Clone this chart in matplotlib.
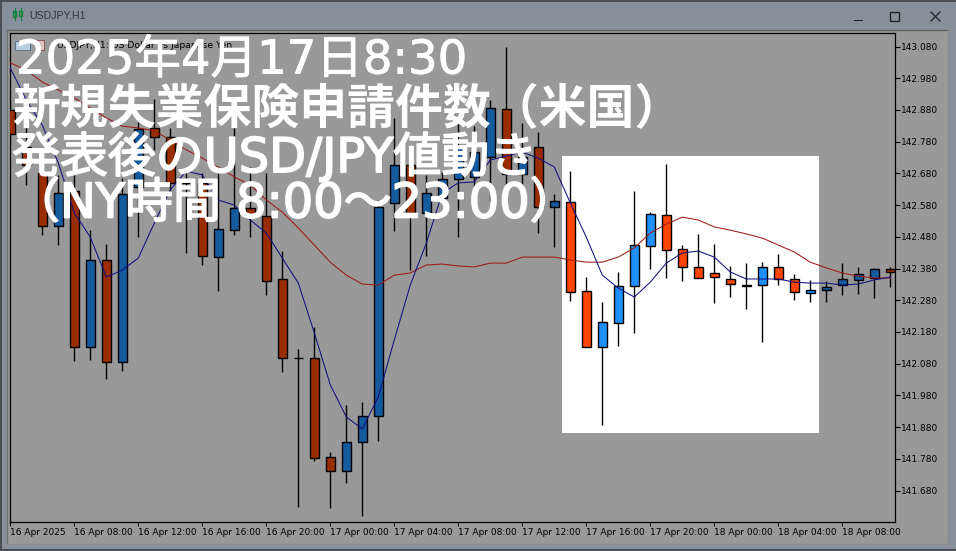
import matplotlib
matplotlib.use("Agg")
from matplotlib import pyplot as plt
from matplotlib import patheffects
from matplotlib.patches import Rectangle

W, H = 956, 551

opens = [142.880, 142.763, 142.681, 142.514, 142.624, 142.133, 142.407, 142.085,
         142.637, 142.823, 142.795, 142.650, 142.650, 142.416, 142.501, 142.571,
         142.546, 142.347, 142.098, 142.098, 141.786, 141.742, 141.833, 141.915,
         142.587, 142.706, 142.555, 142.602, 142.662, 142.669, 142.732, 142.883,
         142.678, 142.763, 142.574, 142.590, 142.309, 142.133, 142.208, 142.325,
         142.451, 142.549, 142.442, 142.385, 142.366, 142.347, 142.327, 142.328,
         142.385, 142.347, 142.303, 142.312, 142.328, 142.344, 142.350, 142.378]
closes = [142.804, 142.706, 142.514, 142.618, 142.133, 142.407, 142.085, 142.615,
          142.820, 142.795, 142.650, 142.650, 142.419, 142.504, 142.571, 142.542,
          142.341, 142.098, 142.098, 141.782, 141.742, 141.833, 141.915, 142.574,
          142.706, 142.552, 142.618, 142.662, 142.763, 142.747, 142.886, 142.678,
          142.732, 142.574, 142.593, 142.306, 142.133, 142.211, 142.325, 142.454,
          142.552, 142.438, 142.385, 142.350, 142.353, 142.331, 142.325, 142.385,
          142.347, 142.306, 142.312, 142.322, 142.347, 142.363, 142.378, 142.369]
highs = [142.911, 142.832, 142.722, 142.675, 142.675, 142.501, 142.457, 142.665,
         142.842, 142.914, 142.823, 142.684, 142.681, 142.681, 142.823, 142.700,
         142.681, 142.435, 142.126, 142.196, 141.801, 141.950, 141.959, 142.596,
         142.855, 142.722, 142.675, 142.684, 142.839, 142.829, 142.911, 143.078,
         142.839, 142.810, 142.615, 142.687, 142.353, 142.274, 142.369, 142.624,
         142.558, 142.710, 142.454, 142.489, 142.457, 142.388, 142.397, 142.400,
         142.426, 142.363, 142.344, 142.341, 142.397, 142.385, 142.382, 142.385]
lows = [142.769, 142.643, 142.486, 142.454, 142.088, 142.091, 142.032, 142.057,
        142.479, 142.754, 142.612, 142.429, 142.392, 142.309, 142.486, 142.479,
        142.298, 142.054, 141.628, 141.773, 141.625, 141.704, 141.600, 141.836,
        142.498, 142.375, 142.419, 142.590, 142.479, 142.637, 142.593, 142.643,
        142.640, 142.492, 142.448, 142.278, 142.133, 141.887, 142.136, 142.177,
        142.378, 142.350, 142.340, 142.350, 142.271, 142.290, 142.252, 142.148,
        142.328, 142.281, 142.274, 142.274, 142.296, 142.300, 142.287, 142.322]

ma_fast = [143.012, 142.911, 142.832, 142.713, 142.555, 142.479, 142.353, 142.375,
           142.413, 142.523, 142.628, 142.687, 142.675, 142.596, 142.580, 142.533,
           142.492, 142.413, 142.334, 142.177, 142.013, 141.912, 141.874, 141.975,
           142.155, 142.328, 142.460, 142.618, 142.650, 142.653, 142.722, 142.735,
           142.747, 142.728, 142.700, 142.587, 142.479, 142.359, 142.318, 142.290,
           142.337, 142.397, 142.429, 142.435, 142.416, 142.369, 142.347, 142.347,
           142.347, 142.337, 142.334, 142.334, 142.328, 142.331, 142.344, 142.353]
ma_slow = [143.028, 143.006, 142.968, 142.943, 142.918, 142.886, 142.855, 142.829,
           142.823, 142.814, 142.785, 142.754, 142.728, 142.700, 142.669, 142.643,
           142.596, 142.558, 142.508, 142.454, 142.400, 142.359, 142.331, 142.328,
           142.359, 142.366, 142.391, 142.394, 142.388, 142.385, 142.397, 142.397,
           142.416, 142.416, 142.416, 142.407, 142.400, 142.400, 142.416, 142.445,
           142.492, 142.520, 142.542, 142.533, 142.511, 142.501, 142.489, 142.476,
           142.454, 142.432, 142.400, 142.382, 142.366, 142.356, 142.350, 142.350]

price_ticks = [143.08, 142.98, 142.88, 142.78, 142.68, 142.58, 142.48, 142.38,
               142.28, 142.18, 142.08, 141.98, 141.88, 141.78, 141.68]
time_labels = ["16 Apr 2025", "16 Apr 08:00", "16 Apr 12:00", "16 Apr 16:00", "16 Apr 20:00",
               "17 Apr 00:00", "17 Apr 04:00", "17 Apr 08:00", "17 Apr 12:00", "17 Apr 16:00",
               "17 Apr 20:00", "18 Apr 00:00", "18 Apr 04:00", "18 Apr 08:00"]
headline = ["2025年4月17日8:30", "新規失業保険申請件数（米国）",
            "発表後のUSD/JPY値動き", "（NY時間 8:00～23:00）"]


def fx(x):
    return x / W


def fy(y):
    return 1 - y / H


def panel(fig, x0, y0, x1, y1, **kwargs):
    # pixel box, top left origin
    fig.add_artist(Rectangle((fx(x0), fy(y1)), (x1 - x0) / W, (y1 - y0) / H,
                             transform=fig.transFigure, zorder=-1, **kwargs))


def seg(fig, x0, y0, x1, y1, col, lw=0.9):
    fig.add_artist(plt.Line2D([fx(x0), fx(x1)], [fy(y0), fy(y1)], color=col, lw=lw))


fig = plt.figure(figsize=(W / 100, H / 100), dpi=100, facecolor="#85909b")

# window frame
panel(fig, 0, 0, W, 1.5, fc="#4a4f55", ec="none")
panel(fig, 0, 0, 1.5, H, fc="#4a4f55", ec="none")
panel(fig, 0, H - 2, W, H, fc="#4a4f55", ec="none")
panel(fig, 7, 30, 948, 544, fc="#999999", ec="none")
seg(fig, 7, 30, 948, 30, "#5a5f64")
seg(fig, 7, 30, 7, 544, "#6a6f74")
seg(fig, 948, 30, 948, 544, "#8b8b8b")
seg(fig, 7, 544, 948, 544, "#8b8b8b")

fig.text(fx(29), fy(15), "USDJPY,H1", fontsize=7.6, color="#2b3640", va="center",
         family="Liberation Sans")
# title bar icon and buttons
panel(fig, 13, 11, 16, 17, fc="#85909b", ec="#11803a", lw=1)
panel(fig, 19, 11, 22, 16, fc="#85909b", ec="#11803a", lw=1)
seg(fig, 14.5, 8, 14.5, 20, "#11803a", 0.8)
seg(fig, 20.5, 8, 20.5, 20, "#11803a", 0.8)
panel(fig, 854, 20, 863, 21, fc="#222222", ec="none")
panel(fig, 890, 12, 899, 21, fc="none", ec="#222222", lw=1)
seg(fig, 931, 12, 940, 21, "#222222")
seg(fig, 931, 21, 940, 12, "#222222")

# chart
ax = fig.add_axes([fx(10.3), fy(522), (895.3 - 10.3) / W, (522 - 33) / H])
ax.set_facecolor("#999999")
ax.set_xlim(0, 885 / 16)
ax.set_ylim(141.5807, 143.1226)
for s in ax.spines.values():
    s.set_linewidth(0.9)

ax.add_patch(Rectangle((fx(562), fy(433)), (819 - 562) / W, (433 - 156) / H,
                       transform=fig.transFigure, fc="white", ec="none", zorder=1))

idx = list(range(len(opens)))
for i in idx:
    up = closes[i] >= opens[i]
    in_box = 35 <= i <= 50
    if up:
        col = "#1e90ff" if in_box else "#145a9e"
    else:
        col = "#ff4500" if in_box else "#992d00"
    ax.vlines(i, lows[i], highs[i], color="black", lw=1.0, zorder=2)
    ax.bar(i, abs(closes[i] - opens[i]), bottom=min(opens[i], closes[i]), width=0.6,
           color=col, edgecolor="black", linewidth=1.0, zorder=3)

ax.plot(idx, ma_slow, color="#9c1a1a", lw=0.75, zorder=4)
ax.plot(idx, ma_fast, color="#101080", lw=0.75, zorder=4)

ax.set_xticks(idx[::4][:len(time_labels)])
ax.set_xticklabels(time_labels, ha="left", fontsize=6.5, family="DejaVu Sans")
ax.set_yticks(price_ticks)
ax.set_yticklabels(["%.3f" % p for p in price_ticks], fontsize=6.5, family="DejaVu Sans")
ax.yaxis.tick_right()
ax.tick_params(axis="x", length=3, width=0.8, pad=1.5)
ax.tick_params(axis="y", length=3.5, width=0.8, pad=0.5)

# little toolbar icons, mostly under the headline
ax.add_patch(Rectangle((fx(15), fy(50)), 15 / W, 9 / H, transform=fig.transFigure,
                       fc="#b9cfe0", ec="#4a6a8a", lw=0.6, zorder=5))
ax.add_patch(Rectangle((fx(37), fy(50)), 7 / W, 10 / H, transform=fig.transFigure,
                       fc="#d8c4c4", ec="#8a4a4a", lw=0.6, zorder=5))
ax.text(fx(57), fy(45), "USDJPY,H1: US Dollar vs Japanese Yen", transform=fig.transFigure,
        fontsize=6.7, family="DejaVu Sans", va="center", zorder=5)

thin = [patheffects.withStroke(linewidth=0.6, foreground="white")]
stroke = [patheffects.withStroke(linewidth=1.2, foreground="white")]
fig.text(fx(16), fy(61), headline[0], color="white", fontsize=33.5, va="center",
         family=["DejaVu Sans", "Noto Sans CJK JP"], zorder=10, path_effects=thin)
fig.text(fx(12), fy(110), headline[1], color="white", fontsize=34.5, fontweight="bold", va="center",
         family=["Noto Sans CJK JP", "DejaVu Sans"], zorder=10)
fig.text(fx(12), fy(157), headline[2], color="white", fontsize=34.5, va="center",
         family=["DejaVu Sans", "Noto Sans CJK JP"], zorder=10, path_effects=stroke)
fig.text(fx(12), fy(204), headline[3], color="white", fontsize=34.5, va="center",
         family=["DejaVu Sans", "Noto Sans CJK JP"], zorder=10, path_effects=stroke)

fig.savefig("out.png", dpi=100, facecolor=fig.get_facecolor())
